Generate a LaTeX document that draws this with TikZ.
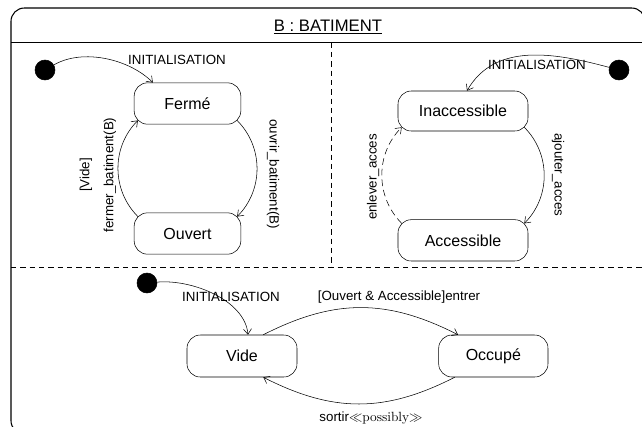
\documentclass[tikz,border=0pt]{standalone}
\usepackage{fontspec}
\setsansfont{Liberation Sans}
\usetikzlibrary{positioning}
\usetikzlibrary{arrows.meta}

\begin{document}
\begin{tikzpicture}[
        % one unit is one pixel of the screen shot, y going down
        x=0.75pt, y=-0.75pt,
        thin, >={Straight Barb[length=4pt,width=6pt]},
        state/.style={
            draw,
            rectangle,
            rounded corners=10pt,
            minimum width=80pt,
            minimum height=31pt,
            font=\sffamily\fontsize{12}{14}\selectfont,
            inner sep=0pt
        },
        initstate/.style={
            draw, circle, fill=black, minimum size=15pt, inner sep=0pt
        },
        trans/.style={
            font=\sffamily\fontsize{10}{12}\selectfont,
            inner sep=1pt
        },
        arc/.style={->, looseness=1},
        region/.style={dash pattern=on 4pt off 3pt}
        ]

        \useasboundingbox (0,0) rectangle (642,426);
        \clip (0,0) rectangle (642,426);

        % object frame and its regions
        \draw [line width=0.8pt, rounded corners=10pt] (11,8) rectangle (645,434);
        \draw [line width=0.8pt] (11,42.5) -- (645,42.5);
        \node [font=\sffamily\fontsize{12.5}{15}\selectfont] (title) at (328,27) {\underline{B : BATIMENT}};
        \draw [region] (331,42.5) -- (331,267.5);
        \draw [region] (11,267.5) -- (645,267.5);

        \node [state] (ferme) at (187.5,103.5) {Fermé};
        \node [state, yshift=-97.5pt] (ouvert) at (ferme) {Ouvert};
        \node [initstate] (init_ferme) at (45,70) {};

        \node [state, minimum width=97.5pt, minimum height=30pt] (inacc) at (463,111) {Inaccessible};
        \node [state, minimum width=97.5pt, yshift=-97pt] (acc) at (inacc) {Accessible};
        \node [initstate] (init_acces) at (619,70) {};

        \node [state, minimum width=82.5pt, minimum height=31.5pt] (vide) at (242,356) {Vide};
        \node [state, minimum width=82pt, minimum height=31.5pt, xshift=188.5pt] (occupe) at (vide) {Occupé};
        \node [initstate] (init_vide) at (147,283) {};

        \draw [->] (init_ferme) to[out=30, in=135, looseness=0.85] ([xshift=-26pt]ferme.north);
        \draw [arc] ([shift={(-3pt,3pt)}]ferme.south east) to[out=-45, in=45] ([shift={(-3pt,-3pt)}]ouvert.north east);
        \draw [arc] ([shift={(3pt,-3pt)}]ouvert.north west) to[out=135, in=-135] ([shift={(3pt,3pt)}]ferme.south west);

        \draw [->] (init_acces) to[out=165, in=60, looseness=1] ([xshift=3pt]inacc.north);
        \draw [arc] ([shift={(-3pt,3pt)}]inacc.south east) to[out=-45, in=45] ([shift={(-3pt,-3pt)}]acc.north east);
        \draw [arc, dash pattern=on 5pt off 3pt] ([shift={(3pt,-3pt)}]acc.north west) to[out=135, in=-135] ([shift={(3pt,3pt)}]inacc.south west);

        \draw [->] (init_vide) to[out=5, in=95, looseness=0.85] ([xshift=4.5pt]vide.north);
        \draw [->] ([xshift=16pt]vide.north) to[out=27, in=153, looseness=1.05] ([xshift=-26.5pt]occupe.north);
        \draw [->] ([xshift=-29pt]occupe.south) to[out=-153, in=-27, looseness=1.05] ([xshift=16pt]vide.south);

        \node [trans] (lbl_init_ferme) at (177,60) {INITIALISATION};
        \node [trans, rotate=-90] (lbl_ouvrir) at (273,174) {ouvrir\_batiment(B)};
        \node [trans, rotate=90, align=center] (lbl_fermer) at (98,175) {[Vide]\\[6pt]fermer\_batiment(B)};
        \node [trans] (lbl_init_acces) at (537,65) {INITIALISATION};
        \node [trans, rotate=-90] (lbl_ajouter) at (558,175) {ajouter\_acces};
        \node [trans, rotate=90] (lbl_enlever) at (373,177) {enlever\_acces};
        \node [trans] (lbl_init_vide) at (231,297) {INITIALISATION};
        \node [trans] (lbl_entrer) at (399,297) {[Ouvert \& Accessible]entrer};
        \node [trans] (lbl_sortir) at (371,418) {sortir$\ll$\textrm{possibly}$\gg$};
\end{tikzpicture}
\end{document}
